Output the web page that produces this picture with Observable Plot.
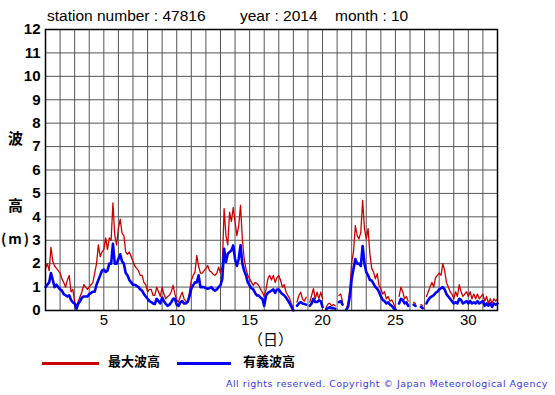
<!DOCTYPE html>
<html>
<head>
<meta charset="utf-8">
<script src="https://cdn.jsdelivr.net/npm/d3@7"></script>
<script src="https://cdn.jsdelivr.net/npm/@observablehq/plot@0.6"></script>
<style>
  html, body { margin: 0; padding: 0; background: #fff; }
  #wrap { position: relative; width: 555px; height: 395px; overflow: hidden; font-family: "Liberation Sans", Arial, sans-serif; }
  .t { position: absolute; white-space: pre; color: #000; line-height: 1.2; }
  .jp { font-family: "Noto Sans CJK JP", sans-serif; font-weight: bold; }
</style>
</head>
<body>
<div id="wrap"></div>
<script>
// Hourly data sampled every 3 hours, starting 1 Oct 00h (day 1.0)
const startDay = 1;
const stepHours = 3;
const xTicks = [5, 10, 15, 20, 25, 30];
const yTicks = [0,1,2,3,4,5,6,7,8,9,10,11,12];

const maxWave = [
  1.8, 2.0, 1.7, 2.7, 2.1, 1.9, 1.8, 1.7,
  1.6, 1.35, 1.2, 1.0, 1.3, 1.5, 0.8, 0.9,
  0.35, 0.2, 0.4, 0.6, 0.8, 1.1, 1.0, 0.9,
  1.0, 1.1, 1.2, 1.6, 2.0, 2.8, 2.3, 2.5,
  2.6, 3.1, 2.6, 3.1, 3.0, 4.6, 3.2, 2.8,
  3.5, 3.9, 3.3, 3.2, 2.5, 2.4, 2.5, 2.3,
  2.1, 1.9, 1.8, 1.7, 1.5, 1.5, 1.2, 1.1,
  0.8, 0.9, 0.9, 0.65, 0.65, 1.0, 0.8, 0.6,
  1.0, 0.7, 0.5, 0.6, 0.65, 0.8, 1.07, 0.7,
  0.45, 0.36, 0.6, 0.78, 0.5, 0.4, 0.36, 0.8,
  1.28, 1.5, 1.64, 2.35, 1.9, 1.6, 1.6, 1.7,
  1.8, 1.92, 1.7, 1.64, 1.55, 1.5, 1.6, 1.85,
  1.6, 1.9, 4.35, 3.2, 2.8, 4.2, 3.8, 4.4,
  3.8, 3.2, 3.6, 4.5, 3.06, 2.2, 1.78, 1.5,
  1.35, 1.2, 1.07, 1.2, 1.15, 1.07, 0.9, 0.78,
  0.6, 0.9, 1.35, 1.5, 1.3, 1.5, 1.2, 1.4,
  1.5, 1.28, 1.0, 1.1, 0.78, 0.64, 0.5, 0.25,
  0.1, null, 0.36, 0.64, 0.78, 0.5, 0.4, 0.57,
  null, 0.36, 0.64, 0.93, 0.5, 0.78, 0.5, 0.78,
  0.5, null, 0.14, 0.28, 0.3, 0.2, 0.25, 0.2,
  null, 0.64, 0.7, 0.36, null, 0.07, 0.3, 0.93,
  2.07, 2.5, 3.63, 3.2, 3.06, 3.35, 4.7, 3.5,
  3.06, 3.5, 2.4, 1.8, 1.64, 1.35, 1.57, 1.07,
  0.93, 0.7, 0.8, 0.5, 0.6, 0.4, 0.45, 0.3,
  0.1, null, 0.6, 1.0, 0.8, 0.5, 0.6, 0.4,
  null, null, 0.35, 0.3, null, null, 0.25, 0.2,
  null, 0.6, 0.8, 1.0, 1.2, 1.0, 1.4, 1.5,
  1.6, 1.5, 2.0, 1.7, 1.2, 1.0, 0.8, 0.7,
  0.5, 0.8, 0.6, 1.1, 0.8, 0.6, 0.7, 0.8,
  0.6, 0.8, 0.5, 0.7, 0.5, 0.7, 0.5, 0.6,
  0.7, 0.4, 0.6, 0.3, 0.5, 0.3, 0.5, 0.4,
  0.5
];

const sigWave = [
  1.0, 1.1, 1.2, 1.6, 1.3, 1.0, 1.1, 1.0,
  0.9, 0.85, 0.7, 0.65, 0.6, 0.65, 0.45, 0.35,
  0.3, 0.07, 0.3, 0.4, 0.55, 0.6, 0.6, 0.6,
  0.7, 0.75, 0.8, 0.8, 1.1, 1.3, 1.5, 1.7,
  1.75, 1.65, 1.7, 2.0, 2.0, 2.85, 2.0, 2.0,
  2.2, 2.4, 2.1, 2.0, 1.6, 1.5, 1.3, 1.2,
  1.1, 1.1, 1.05, 1.0, 0.9, 0.85, 0.7, 0.6,
  0.5, 0.4, 0.36, 0.3, 0.28, 0.5, 0.4, 0.3,
  0.55, 0.4, 0.28, 0.2, 0.25, 0.35, 0.5, 0.5,
  0.25, 0.2, 0.35, 0.4, 0.3, 0.3, 0.36, 0.6,
  0.93, 1.07, 1.2, 1.2, 1.5, 1.0, 1.0, 1.0,
  0.95, 0.93, 0.95, 1.0, 0.9, 0.85, 0.9, 1.0,
  1.07, 1.35, 2.64, 2.07, 2.42, 2.5, 2.56, 2.78,
  2.2, 1.9, 2.2, 2.78, 2.0, 1.7, 1.5, 1.2,
  1.07, 0.95, 0.9, 0.75, 0.64, 0.64, 0.55, 0.5,
  0.2, 0.64, 0.75, 0.8, 0.85, 0.9, 0.75, 0.9,
  0.9, 0.78, 0.7, 0.64, 0.55, 0.43, 0.3, 0.15,
  0.0, null, 0.2, 0.3, 0.36, 0.3, 0.28, 0.25,
  null, 0.2, 0.3, 0.5, 0.36, 0.36, 0.43, 0.4,
  0.15, null, 0.07, 0.1, 0.14, 0.1, 0.1, 0.07,
  null, 0.36, 0.4, 0.25, null, 0.03, 0.15, 0.64,
  1.35, 1.78, 2.2, 2.0, 2.0, 1.9, 2.75, 2.0,
  1.64, 1.5, 1.3, 1.28, 1.14, 1.0, 0.93, 0.8,
  0.6, 0.45, 0.4, 0.3, 0.35, 0.25, 0.2, 0.1,
  0.05, null, 0.3, 0.5, 0.45, 0.3, 0.35, 0.2,
  null, null, 0.25, 0.2, null, null, 0.15, 0.1,
  null, 0.3, 0.45, 0.55, 0.6, 0.65, 0.75, 0.8,
  0.9, 0.95, 1.0, 0.9, 0.7, 0.6, 0.5, 0.4,
  0.3, 0.35, 0.3, 0.5, 0.45, 0.3, 0.35, 0.4,
  0.3, 0.4, 0.3, 0.35, 0.3, 0.4, 0.3, 0.35,
  0.4, 0.2, 0.3, 0.2, 0.3, 0.15, 0.3, 0.25,
  0.3
];

const rows = maxWave.map((v, i) => ({
  day: startDay + i * stepHours / 24,
  max: v,
  sig: sigWave[i]
}));

const chart = Plot.plot({
  width: 555,
  height: 345,
  marginTop: 29,
  marginBottom: 35,
  marginLeft: 45,
  marginRight: 58,
  style: { fontFamily: "'Liberation Sans', Arial, sans-serif", background: "#fff", color: "#000" },
  x: { domain: [1, 32] },
  y: { domain: [0, 12] },
  marks: [
    Plot.gridX(d3.range(1, 33), { stroke: "#555", strokeOpacity: 1, strokeWidth: 1 }),
    Plot.gridY(yTicks, { stroke: "#555", strokeOpacity: 1, strokeWidth: 1 }),
    Plot.line(rows, { x: "day", y: "max", stroke: "#cc0000", strokeWidth: 1.3 }),
    Plot.line(rows, { x: "day", y: "sig", stroke: "#0000ff", strokeWidth: 2.6 }),
    Plot.axisY(yTicks, { tickSize: 0, tickPadding: 5, fontSize: 15, fontWeight: "bold", label: null }),
    Plot.axisX(xTicks, { tickSize: 0, tickPadding: 4, fontSize: 15, label: null }),
    Plot.frame({ stroke: "#000", strokeWidth: 1.5 })
  ]
});
chart.style.position = "absolute";
chart.style.left = "0px";
chart.style.top = "0px";

const wrap = document.getElementById("wrap");
wrap.appendChild(chart);

function addText(txt, left, top, css, cls) {
  const d = document.createElement("div");
  d.className = "t" + (cls ? " " + cls : "");
  d.textContent = txt;
  d.style.left = left + "px";
  d.style.top = top + "px";
  Object.assign(d.style, css || {});
  wrap.appendChild(d);
  return d;
}

addText("station number : 47816", 47, 7, { fontSize: "15.5px" });
addText("year : 2014", 240, 7, { fontSize: "15.5px" });
addText("month : 10", 335, 7, { fontSize: "15.5px" });

addText("波", 8, 129, { fontSize: "15px" }, "jp");
addText("高", 8, 196, { fontSize: "15px" }, "jp");
addText("(m)", 1, 230, { fontSize: "14px", letterSpacing: "2px" }, "jp");
addText("（日）", 248, 330, { fontSize: "15px", fontWeight: "normal" }, "jp");

// legend
function addLine(left, top, w, color) {
  const d = document.createElement("div");
  d.style.position = "absolute";
  d.style.left = left + "px";
  d.style.top = top + "px";
  d.style.width = w + "px";
  d.style.height = "3px";
  d.style.background = color;
  wrap.appendChild(d);
}
addLine(42, 362, 57, "#cc0000");
addText("最大波高", 108, 353, { fontSize: "13px" }, "jp");
addLine(177, 362, 54, "#0000ff");
addText("有義波高", 243, 353, { fontSize: "13px" }, "jp");

const copy = addText("All rights reserved. Copyright © Japan Meteorological Agency", 226, 378,
  { fontSize: "9.5px", color: "#3a3adf", fontFamily: "'DejaVu Sans', sans-serif" });
const w0 = copy.getBoundingClientRect().width;
const n = copy.textContent.length;
copy.style.letterSpacing = ((322 - w0) / n).toFixed(2) + "px";
</script>
</body>
</html>
